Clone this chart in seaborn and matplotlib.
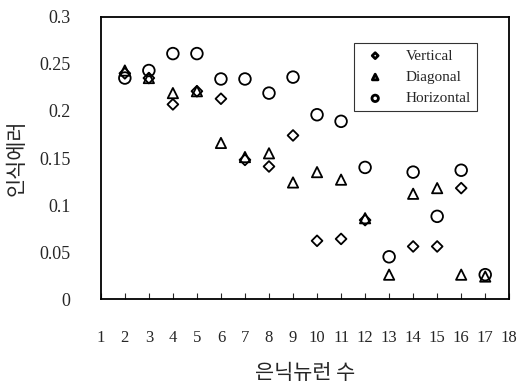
import matplotlib

matplotlib.use("Agg")
import matplotlib.pyplot as plt
import numpy as np
import pandas as pd
import seaborn as sns

# hidden neurons on the x axis
neurons = [2, 3, 4, 5, 6, 7, 8, 9, 10, 11, 12, 13, 14, 15, 16, 17]

# no diamond can be seen at 13 and 17 in the source
vertical = [0.240, 0.235, 0.207, 0.221, 0.213, 0.148, 0.141, 0.174,
            0.062, 0.064, 0.084, np.nan, 0.056, 0.056, 0.118, np.nan]
diagonal = [0.243, 0.235, 0.219, 0.221, 0.166, 0.151, 0.155, 0.124,
            0.135, 0.127, 0.086, 0.026, 0.112, 0.118, 0.026, 0.024]
horizontal = [0.235, 0.243, 0.261, 0.261, 0.234, 0.234, 0.219, 0.236,
              0.196, 0.189, 0.140, 0.045, 0.135, 0.088, 0.137, 0.026]

series_names = ["Vertical", "Diagonal", "Horizontal"]
series_markers = {"Vertical": "D", "Diagonal": "^", "Horizontal": "o"}
series_sizes = {"Vertical": 30, "Diagonal": 55, "Horizontal": 70}

x_ticks = list(range(1, 19))
y_ticks = [0, 0.05, 0.1, 0.15, 0.2, 0.25, 0.3]
y_tick_labels = ["0", "0.05", "0.1", "0.15", "0.2", "0.25", "0.3"]

df = pd.DataFrame({
    "neurons": neurons * 3,
    "error": vertical + diagonal + horizontal,
    "series": [n for n in series_names for _ in neurons],
})

sns.set_style("ticks")
plt.rcParams["font.family"] = ["Liberation Serif", "DejaVu Serif"]
kr_font = ["Noto Sans CJK KR", "DejaVu Sans"]

fig = plt.figure(figsize=(5.17, 3.84), dpi=100)
ax = fig.add_axes([0.195, 0.221, 0.79, 0.735])

for name in series_names:
    sub = df[df["series"] == name].dropna()
    sns.scatterplot(data=sub, x="neurons", y="error", marker=series_markers[name],
                    s=series_sizes[name], color="black", linewidth=1.3,
                    label=name, ax=ax, zorder=3)

for coll in ax.collections:
    coll.set_facecolor("none")
    coll.set_edgecolor("black")

ax.set_xlim(1, 18)
ax.set_ylim(0, 0.3)
ax.set_xticks(x_ticks)
ax.set_xticklabels([str(t) for t in x_ticks], fontsize=12)
ax.set_yticks(y_ticks)
ax.set_yticklabels(y_tick_labels, fontsize=13)
ax.tick_params(axis="x", direction="in", length=4, pad=22, width=0.8)
ax.tick_params(axis="y", direction="in", length=0, pad=22)
for spine in ax.spines.values():
    spine.set_visible(True)
    spine.set_linewidth(1.3)
    spine.set_color("black")

ax.set_xlabel("은닉뉴런 수", fontsize=15, family=kr_font, labelpad=12)
ax.set_ylabel("인식에러", fontsize=15, family=kr_font, labelpad=8)

leg = ax.legend(loc="upper right", bbox_to_anchor=(0.94, 0.935), fontsize=11,
                frameon=True, fancybox=False, edgecolor="black",
                handlelength=2.0, handletextpad=1.0, borderpad=0.4,
                labelspacing=0.5, markerscale=0.55)
leg.get_frame().set_linewidth(0.8)
for h in leg.legend_handles:
    h.set_facecolor("none")
    h.set_edgecolor("black")
    h.set_linewidth(2)

fig.savefig("out.png", dpi=100)
